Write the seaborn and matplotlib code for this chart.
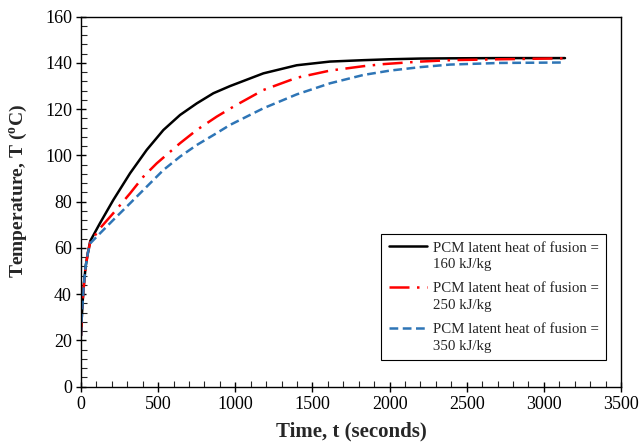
import matplotlib
matplotlib.use("Agg")
import matplotlib.pyplot as plt
import seaborn as sns
import pandas as pd
import numpy as np
from matplotlib.ticker import MultipleLocator

# Data
t_160 = [0, 5, 12, 20, 30, 45, 60, 123, 209, 318, 426, 534, 642, 750, 858, 966, 1182, 1398, 1614, 1830, 2003, 2200, 2392, 2716, 3137]
T_160 = [22, 30, 38, 45, 52, 58, 63, 70.7, 80.7, 92.3, 102.4, 111, 117.5, 122.5, 126.9, 130, 135.5, 139, 140.6, 141.2, 141.6, 141.9, 142, 142.1, 142.1]

t_250 = [0, 5, 12, 20, 30, 45, 60, 123, 209, 318, 404, 491, 642, 750, 880, 998, 1182, 1398, 1614, 1830, 1960, 2200, 2392, 2716, 3137]
T_250 = [22, 30, 38, 45, 52, 58, 62.5, 68.5, 75, 83.6, 90.8, 96.6, 105.3, 111, 116.8, 121.5, 128.3, 133.6, 136.7, 138.6, 139.5, 140.6, 141.2, 141.6, 142]

t_350 = [0, 5, 12, 20, 30, 45, 60, 123, 209, 318, 426, 534, 642, 750, 858, 966, 1182, 1398, 1614, 1830, 2003, 2200, 2392, 2716, 3137]
T_350 = [22, 30, 38, 45, 52, 58, 62, 66.3, 72.1, 79.3, 86.5, 93.7, 99.5, 104.5, 108.8, 113.2, 120.4, 126.4, 131.2, 134.8, 136.7, 138.2, 139.3, 140, 140.2]

labels = ["PCM latent heat of fusion =\n160 kJ/kg",
          "PCM latent heat of fusion =\n250 kJ/kg",
          "PCM latent heat of fusion =\n350 kJ/kg"]
colors = ["#000000", "#FF0000", "#2E75B6"]
styles = ["-", (0, (8, 3, 1, 3)), (0, (3.5, 1.8))]

sns.set_style("ticks")
plt.rcParams["font.family"] = ["Liberation Serif", "DejaVu Serif"]
plt.rcParams["mathtext.fontset"] = "custom"
plt.rcParams["mathtext.rm"] = "Liberation Serif:bold"
plt.rcParams["mathtext.it"] = "Liberation Serif:bold"
plt.rcParams["mathtext.bf"] = "Liberation Serif:bold"

fig = plt.figure(figsize=(6.41, 4.48), dpi=100)
ax = fig.add_axes([81 / 641, 1 - 386.7 / 448, 540 / 641, 370 / 448])

for tx, ty, lab, c, ls in zip([t_160, t_250, t_350], [T_160, T_250, T_350], labels, colors, styles):
    df = pd.DataFrame({"t": tx, "T": ty})
    sns.lineplot(data=df, x="t", y="T", ax=ax, color=c, linestyle=ls,
                 linewidth=1.8, label=lab, errorbar=None, sort=False)

ax.set_xlim(0, 3500)
ax.set_ylim(0, 160)
ax.xaxis.set_major_locator(MultipleLocator(500))
ax.xaxis.set_minor_locator(MultipleLocator(100))
ax.yaxis.set_major_locator(MultipleLocator(20))
ax.yaxis.set_minor_locator(MultipleLocator(4))
ax.tick_params(which="major", direction="inout", length=7, width=1, labelsize=13, colors="black", pad=3)
ax.tick_params(which="minor", direction="in", length=4, width=0.8)
for sp in ax.spines.values():
    sp.set_visible(True)
    sp.set_color("black")
    sp.set_linewidth(1.0)

ax.set_xlabel("Time, t (seconds)", fontsize=15, fontweight="bold", labelpad=6)
ax.set_ylabel("Temperature, T ($^{\\mathrm{o}}$C)", fontsize=14, fontweight="bold")
ax.yaxis.set_label_coords(-0.096, 0.5276)

fs = 10.7
lsp = 1.35
leg = ax.legend(loc="lower right", bbox_to_anchor=(0.972, 0.072), borderaxespad=0,
                fancybox=False, frameon=True, edgecolor="black", framealpha=1,
                fontsize=fs, handlelength=2.6, handletextpad=0.35, labelspacing=0.75,
                borderpad=0.5)
leg.get_frame().set_linewidth(0.8)
for txt in leg.get_texts():
    txt.set_linespacing(lsp)
for ln in leg.get_lines():
    ln.set_ydata(np.asarray(ln.get_ydata(), dtype=float) + 0.5 * lsp * fs)

fig.savefig("out.png", dpi=100)
